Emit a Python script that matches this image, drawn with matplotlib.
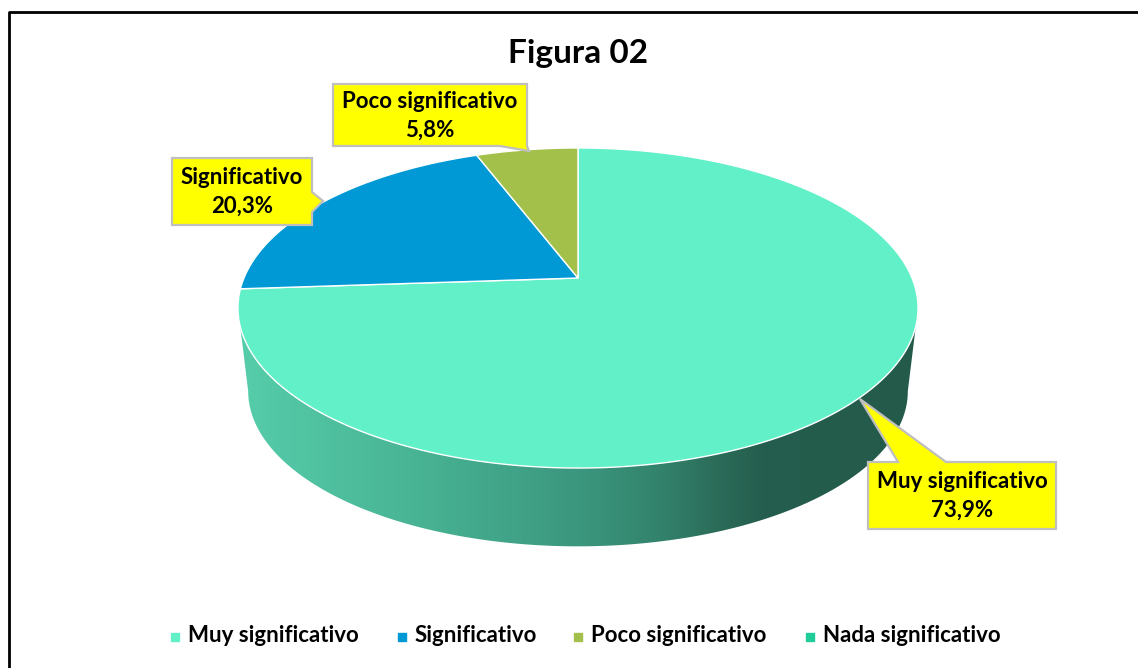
import numpy as np
import matplotlib.pyplot as plt
from matplotlib.patches import Polygon
from matplotlib.colors import LinearSegmentedColormap

# Datos
categorias = ['Muy significativo', 'Significativo', 'Poco significativo', 'Nada significativo']
porcentajes = [73.9, 20.3, 5.8, 0.0]
colores = ['#62F0C8', '#0099D5', '#A3C14A', '#20CC9A']

plt.rcParams['font.family'] = ['Lato', 'DejaVu Sans']

fig = plt.figure(figsize=(11.38, 6.68), dpi=100)
ax = fig.add_axes([0, 0, 1, 1])

# Proyeccion en perspectiva del disco (coordenadas en pixeles)
cx, cy = 578, 278
A, B, p = 334, 154.4, 0.1875
h, enc = 84, 0.97


def proj(phi, drop=0.0, s=1.0):
    u, v = np.cos(phi), np.sin(phi)
    d = 1 + p * v
    return cx + A * s * u / d, cy - B * s * v / d + drop


# Lateral (cara frontal) con degradado
phi_r = -np.arcsin(p)
phi_l = -np.pi + np.arcsin(p)
t = np.linspace(phi_r, phi_l, 200)
xt, yt = proj(t)
xb, yb = proj(t[::-1], drop=h, s=enc)
lado = Polygon(np.column_stack([np.r_[xt, xb], np.r_[yt, yb]]), closed=True,
               facecolor='none', edgecolor='none')
ax.add_patch(lado)
cmap = LinearSegmentedColormap.from_list('lado', [(0, '#56CDAA'), (0.25, '#49B595'),
                                                  (0.5, '#3B977E'), (0.62, '#33836C'),
                                                  (0.70, '#2C6D5A'), (0.77, '#255E4E'),
                                                  (1, '#245A4A')])
grad = np.linspace(0, 1, 256).reshape(1, -1)
im = ax.imshow(grad, extent=(xt.min(), xt.max(), yb.max() + 2, yt.min() - 2),
               cmap=cmap, aspect='auto', zorder=1)
im.set_clip_path(lado)

# Cara superior: sectores en sentido horario desde las 12
acum = 0.0
for val, col in zip(porcentajes, colores):
    if val <= 0:
        continue
    a1 = np.pi / 2 - 2 * np.pi * acum / 100
    a2 = np.pi / 2 - 2 * np.pi * (acum + val) / 100
    th = np.linspace(a1, a2, 300)
    xs, ys = proj(th)
    pts = np.column_stack([np.r_[cx, xs], np.r_[cy, ys]])
    ax.add_patch(Polygon(pts, closed=True, facecolor=col, edgecolor='white',
                         linewidth=1.0, zorder=2))
    acum += val


# Etiquetas tipo llamada
def llamada(x0, y0, x1, y1, lado_p, a, b, tip):
    tl, tr, br, bl = (x0, y0), (x1, y0), (x1, y1), (x0, y1)
    if lado_p == 'top':
        v = [tl, (a, y0), tip, (b, y0), tr, br, bl]
    elif lado_p == 'right':
        v = [tl, tr, (x1, a), tip, (x1, b), br, bl]
    else:
        v = [tl, tr, br, (b, y1), tip, (a, y1), bl]
    return Polygon(v, closed=True, facecolor='#FFFF00', edgecolor='#BFBFBF',
                   linewidth=1.6, zorder=5)


def fmt(v):
    return f'{v:.1f}'.replace('.', ',') + '%'


cajas = [
    (868, 462, 1056, 529, 'top', 898, 946, (860, 399)),
    (172, 158, 312, 225, 'right', 192, 212, (323, 201)),
    (333, 84, 527, 146, 'bottom', 500, 527, (529, 151)),
]
for cat, val, caja in zip(categorias, porcentajes, cajas):
    x0, y0, x1, y1 = caja[:4]
    ax.add_patch(llamada(*caja))
    xm = (x0 + x1) / 2
    ym = (y0 + y1) / 2
    ax.text(xm, ym - 14, cat, ha='center', va='center', fontsize=16,
            fontweight='bold', color='black', zorder=6)
    ax.text(xm, ym + 15, fmt(val), ha='center', va='center', fontsize=16,
            fontweight='bold', color='black', zorder=6)

# Titulo
ax.text(578, 54, 'Figura 02', ha='center', va='center', fontsize=24,
        fontweight='bold', color='black')

# Leyenda
leg_x = [175, 402, 578, 810]
for xm, cat, col in zip(leg_x, categorias, colores):
    ax.plot([xm], [637], marker='s', markersize=6, color=col, linestyle='none')
    ax.text(xm + 13, 636, cat, ha='left', va='center', fontsize=16,
            fontweight='bold', color='black')

# Marco
ax.plot([9, 9, 1140], [680, 12, 12], color='black', linewidth=2.0,
        solid_capstyle='projecting')

ax.set_xlim(0, 1138)
ax.set_ylim(668, 0)
ax.axis('off')
plt.savefig('out.png', dpi=100)
